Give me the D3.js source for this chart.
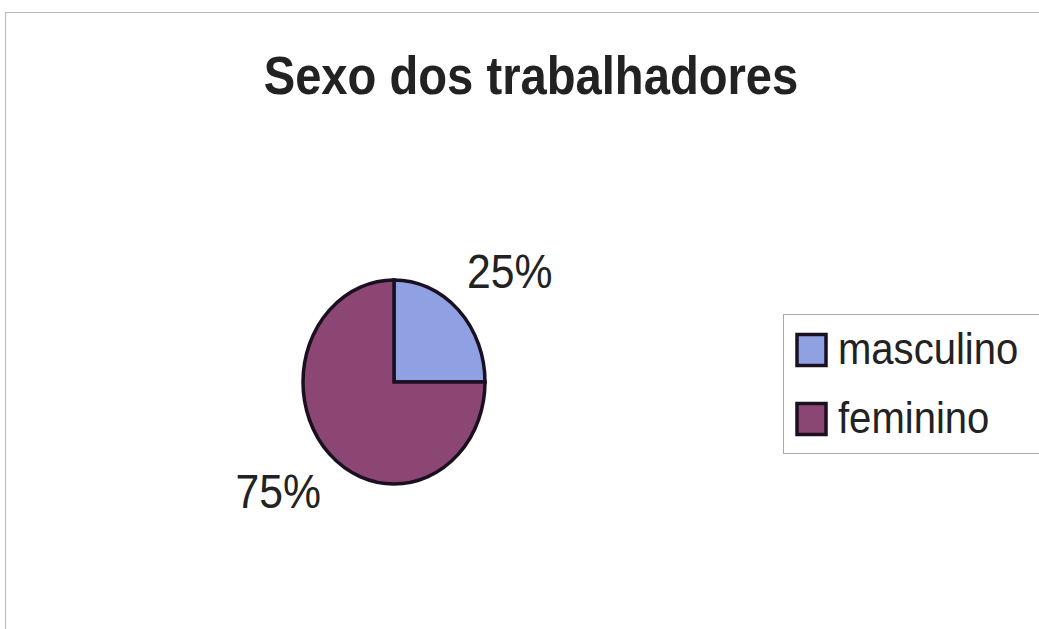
<!DOCTYPE html>
<html><head><meta charset="utf-8">
<script src="https://cdn.jsdelivr.net/npm/d3@7"></script>
<style>body{margin:0;background:#fff}svg{display:block}text{font-family:"Liberation Sans",Arial,sans-serif;fill:#222}</style>
</head><body>
<script>
const title = "Sexo dos trabalhadores";
const categories = ["masculino", "feminino"];
const values = [25, 75];
const colors = ["#8FA1E3", "#8C4674"];

const W = 1039, H = 629;
const SX = 0.89; // horizontal squeeze seen in the reference
const svg = d3.select("body").append("svg").attr("width", W).attr("height", H);

svg.append("rect").attr("x", 5.5).attr("y", 12.5).attr("width", 1040).attr("height", 640)
  .attr("fill", "#fff").attr("stroke", "#b8b8b8").attr("stroke-width", 1);

function sText(x, y, str, size, weight, anchor) {
  const g = svg.append("g").attr("transform", `translate(${x},${y}) scale(${SX},1)`);
  return g.append("text").attr("text-anchor", anchor || "start")
    .style("font-size", size + "px").style("font-weight", weight || "normal").text(str);
}

sText(531, 94, title, 53, "bold", "middle");

const cx = 394, cy = 382, rx = 91, ry = 102;
const pie = d3.pie().sort(null).value(d => d)(values);
const arc = d3.arc().innerRadius(0).outerRadius(1);
const g = svg.append("g").attr("transform", `translate(${cx},${cy}) scale(${rx},${ry})`);
g.selectAll("path").data(pie).join("path")
  .attr("d", arc).attr("fill", (d, i) => colors[i])
  .attr("stroke", "#1a1020").attr("stroke-width", 3.5).attr("vector-effect", "non-scaling-stroke");

const total = d3.sum(values);
const fmt = v => Math.round(v / total * 100) + "%";
const labelArc = d3.arc().innerRadius(1).outerRadius(1);
pie.forEach(d => {
  const [lx, ly] = labelArc.centroid(d);
  sText(cx + lx * rx * 1.8, cy + ly * ry * 1.53 + 16, fmt(d.data), 48, "normal", "middle");
});

svg.append("rect").attr("x", 783.5).attr("y", 314.5).attr("width", 260).attr("height", 139)
  .attr("fill", "#fff").attr("stroke", "#aaa").attr("stroke-width", 1);
categories.forEach((c, i) => {
  const y = 349.5 + i * 69;
  svg.append("rect").attr("x", 797).attr("y", y - 15).attr("width", 29).attr("height", 31)
    .attr("fill", colors[i]).attr("stroke", "#1a1020").attr("stroke-width", 3.5);
  sText(838, y + 14, c, 45, "normal", "start");
});
</script>
</body></html>
